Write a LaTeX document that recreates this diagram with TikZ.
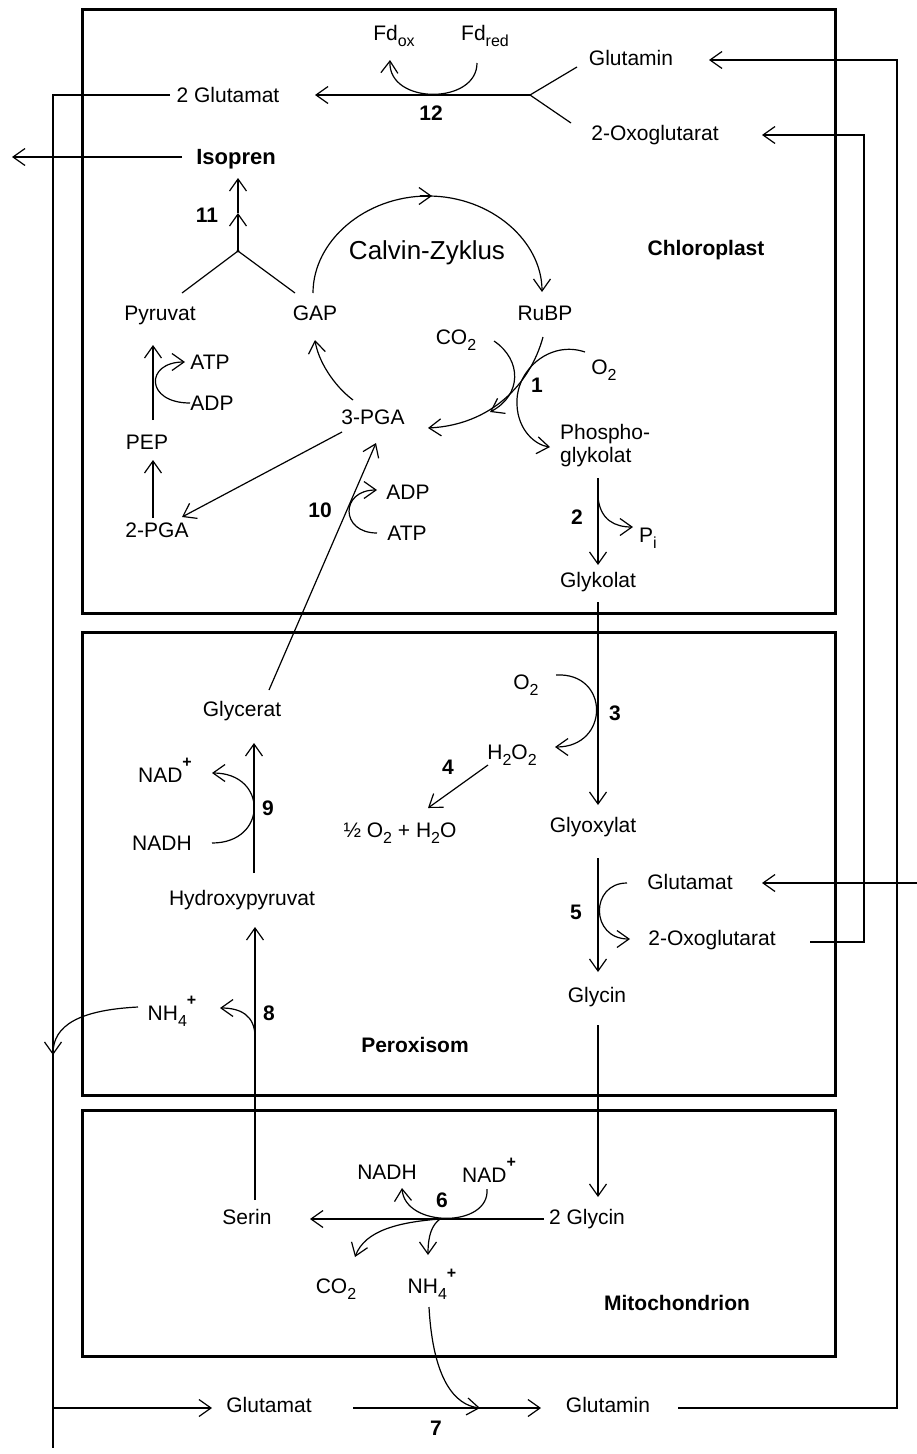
\documentclass[tikz,border=0pt]{standalone}
\usepackage{fontspec}
\setmainfont{Liberation Sans}
\usetikzlibrary{arrows.meta}
\newcommand{\mysub}[1]{\raisebox{-0.28em}{\fontsize{16}{16}\selectfont #1}}
\newcommand{\mysup}[1]{\raisebox{0.7em}{\fontsize{16}{16}\selectfont\bfseries #1}}
\begin{document}
\begin{tikzpicture}[x=1pt,y=-1pt,
  lab/.style={font=\fontsize{21}{25}\selectfont, inner sep=0pt, text height=15pt, text depth=0pt},
  num/.style={font=\fontsize{21}{25}\selectfont\bfseries, inner sep=0pt, text height=15pt, text depth=0pt},
  title/.style={font=\fontsize{21}{25}\selectfont\bfseries, inner sep=0pt, text height=15pt, text depth=0pt},
  boxline/.style={line width=3pt},
  ln/.style={line width=1.2pt},
  arr/.style={ln, -{Straight Barb[length=12pt,width=17pt]}}]
\useasboundingbox (0,0) rectangle (917,1454);

% compartments
\draw[boxline] (82,9) rectangle (835,613);
\draw[boxline] (82,632) rectangle (835,1095);
\draw[boxline] (82,1110) rectangle (835,1356);

% ---------- Chloroplast labels
\node[lab] (fdox) at (394,33) {Fd\mysub{ox}};
\node[lab] (fdred) at (485,33) {Fd\mysub{red}};
\node[lab] (glu2) at (228,95) {2 Glutamat};
\node[num] (n12) at (431,113) {12};
\node[lab] (glnT) at (631,58) {Glutamin};
\node[lab] (oxoT) at (655,133) {2-Oxoglutarat};
\node[title, font=\fontsize{22}{25}\selectfont\bfseries] (isopren) at (236,157) {Isopren};
\node[num] (n11) at (207,215) {11};
\node[lab, font=\fontsize{26}{30}\selectfont] (calvin) at (427,252) {Calvin-Zyklus};
\node[title] (chloro) at (706,248) {Chloroplast};
\node[lab] (pyr) at (160,313) {Pyruvat};
\node[lab] (gap) at (315,313) {GAP};
\node[lab] (rubp) at (545,313) {RuBP};
\node[lab] (co2) at (456,337) {CO\mysub{2}};
\node[lab] (o2) at (604,367) {O\mysub{2}};
\node[num] (n1) at (537,385) {1};
\node[lab] (atp1) at (210,362) {ATP};
\node[lab] (adp1) at (212,403) {ADP};
\node[lab] (pep) at (147,442) {PEP};
\node[lab] (pga3) at (373,417) {3-PGA};
\node[lab] (pga2) at (157,530) {2-PGA};
\node[lab, anchor=west] (phos) at (560,432) {Phospho-};
\node[lab, anchor=west] (glyk) at (560,455) {glykolat};
\node[num] (n2) at (577,517) {2};
\node[lab] (pi) at (648,535) {P\mysub{i}};
\node[lab] (adp10) at (408,492) {ADP};
\node[lab] (atp10) at (407,533) {ATP};
\node[num] (n10) at (320,510) {10};
\node[lab] (glykolat) at (598,580) {Glykolat};

% ---------- Peroxisom labels
\node[lab] (glycerat) at (242,709) {Glycerat};
\node[lab] (nad9) at (165,775) {NAD\mysup{+}};
\node[lab] (nadh9) at (162,843) {NADH};
\node[num] (n9) at (268,808) {9};
\node[lab] (hpyr) at (242,898) {Hydroxypyruvat};
\node[lab] (o2p) at (526,682) {O\mysub{2}};
\node[num] (n3) at (615,713) {3};
\node[lab] (h2o2) at (512,752) {H\mysub{2}O\mysub{2}};
\node[num] (n4) at (448,767) {4};
\node[lab] (halfo2) at (400,830) {½ O\mysub{2} + H\mysub{2}O};
\node[lab] (glyox) at (593,825) {Glyoxylat};
\node[lab] (gluP) at (690,882) {Glutamat};
\node[lab] (oxoP) at (712,938) {2-Oxoglutarat};
\node[num] (n5) at (576,912) {5};
\node[lab] (glycinP) at (597,995) {Glycin};
\node[lab] (nh4P) at (172,1013) {NH\mysub{4}\mysup{+}};
\node[num] (n8) at (269,1013) {8};
\node[title] (perox) at (415,1045) {Peroxisom};

% ---------- Mitochondrion labels
\node[lab] (nadhM) at (387,1172) {NADH};
\node[lab] (nadM) at (489,1175) {NAD\mysup{+}};
\node[num] (n6) at (442,1200) {6};
\node[lab] (serin) at (247,1217) {Serin};
\node[lab] (gly2) at (587,1217) {2 Glycin};
\node[lab] (co2M) at (336,1286) {CO\mysub{2}};
\node[lab] (nh4M) at (432,1286) {NH\mysub{4}\mysup{+}};
\node[title] (mito) at (677,1303) {Mitochondrion};

% ---------- outside
\node[lab] (gluB) at (269,1405) {Glutamat};
\node[lab] (glnB) at (608,1405) {Glutamin};
\node[num] (n7) at (436,1428) {7};

% ---------- connectors: reaction 12
\coordinate (J12) at (530,95);
\draw[arr] (J12) -- (315,95);
\draw[ln] (J12) -- (577,67);
\draw[ln] (J12) -- (571,123);
\draw[arr] (477,63) .. controls (477,105) and (388,105) .. (390,60);

% transport lines
\draw[arr] (678,1408) -- (897,1408) -- (897,60) -- (709,60);
\draw[arr] (810,942) -- (864,942) -- (864,135) -- (762,135);
\draw[ln] (170,95) -- (53,95) -- (53,1448);
\draw[arr] (53,1408) -- (212,1408);
\draw[arr] (182,157) -- (12,157);

% reaction 11
\coordinate (J11) at (238,251);
\draw[arr] (J11) -- (238,213);
\draw[arr] (238,213) -- (238,178);
\draw[ln] (J11) -- (182,293);
\draw[ln] (J11) -- (295,293);
\fill (J11) circle (1.6);

% Calvin cycle
\draw[arr] (313,293) .. controls (313,241) and (365,196) .. (428,196) .. controls (491,196) and (542,241) .. (542,292);
\draw[arr] (420,196) -- (432,196);

% Pyruvat branch
\draw[arr] (153,420) -- (153,345);
\draw[arr] (190,403) .. controls (145,403) and (145,362) .. (185,362);
\draw[arr] (153,518) -- (153,460);
\draw[arr] (342,432) -- (182,517);
\draw[arr] (353,400) .. controls (333,385) and (318,360) .. (315,340);

% reaction 1
\draw[arr] (543,337) .. controls (530,385) and (490,425) .. (428,428);
\draw[arr] (494,341) .. controls (522,360) and (522,395) .. (490,412);
\draw[arr] (585,352) .. controls (550,340) and (515,370) .. (517,405) .. controls (518,430) and (535,445) .. (550,447);

% reaction 2
\draw[arr] (598,478) -- (598,565);
\draw[arr] (598,497) .. controls (600,520) and (615,527) .. (633,527);
\draw[arr] (598,602) -- (598,805);

% reaction 10
\draw[arr] (269,690) -- (376,443);
\draw[arr] (377,533) .. controls (340,533) and (340,490) .. (377,490);

% reaction 9
\draw[arr] (254,873) -- (254,743);
\draw[arr] (212,843) .. controls (268,843) and (268,773) .. (212,773);

% reaction 3, 4
\draw[arr] (556,675) .. controls (610,672) and (610,747) .. (555,747);
\draw[arr] (488,765) -- (428,808);

% reaction 5
\draw[arr] (598,858) -- (598,972);
\draw[arr] (627,883) .. controls (590,883) and (590,939) .. (630,939);
\draw[arr] (917,883) -- (762,883);

% glycin transport, reaction 8
\draw[arr] (598,1025) -- (598,1197);
\draw[arr] (255,1200) -- (255,927);
\draw[arr] (255,1037) .. controls (255,1015) and (240,1008) .. (220,1008);
\draw[arr] (138,1007) .. controls (80,1010) and (53,1025) .. (53,1055);

% reaction 6
\draw[arr] (544,1219) -- (310,1219);
\draw[arr] (487,1189) .. controls (490,1228) and (405,1228) .. (402,1188);
\draw[arr] (440,1219) .. controls (400,1222) and (365,1230) .. (355,1257);
\draw[arr] (440,1219) .. controls (432,1225) and (428,1235) .. (428,1255);

% reaction 7
\draw[arr] (429,1307) .. controls (433,1380) and (455,1405) .. (480,1408);
\draw[arr] (353,1408) -- (541,1408);
\end{tikzpicture}
\end{document}
